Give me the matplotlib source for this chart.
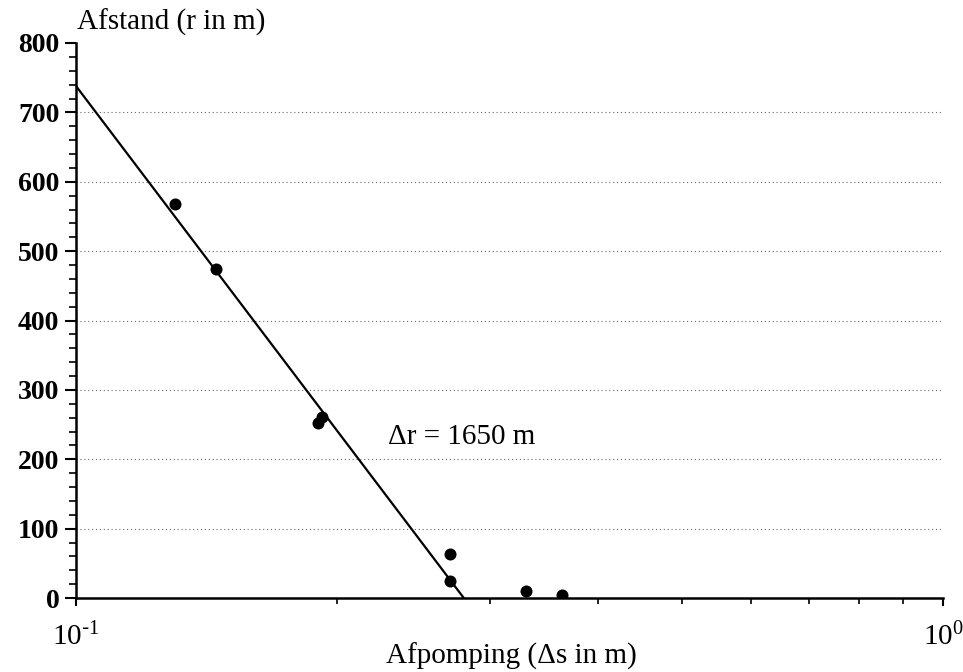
import numpy as np
import matplotlib
matplotlib.use("Agg")
import matplotlib.pyplot as plt
from matplotlib.ticker import MultipleLocator, FixedLocator, NullFormatter

# Data
drawdown = [0.130, 0.145, 0.190, 0.192, 0.270, 0.270, 0.330, 0.364]
distance = [568, 474, 252, 261, 64, 25, 10, 4]

# Fitted straight line: delta r per log cycle and r at s = 0.1
delta_r = 1650
r_at_01 = 738
s0 = 0.1 * 10 ** (r_at_01 / delta_r)
line_s = [0.1, s0]
line_r = [r_at_01 - delta_r * np.log10(s / 0.1) for s in line_s]

yticks = [0, 100, 200, 300, 400, 500, 600, 700, 800]
grid_levels = [100, 200, 300, 400, 500, 600, 700]

plt.rcParams['font.family'] = ['Liberation Serif', 'DejaVu Serif']

fig = plt.figure(figsize=(9.63, 6.72), dpi=100)
ax = fig.add_axes([76/963, 1 - 598/672, (943-76)/963, (598-43)/672])

ax.set_xscale('log')
ax.set_xlim(0.1, 1.0)
ax.set_ylim(0, 800)

for g in grid_levels:
    ax.axhline(g, color='#666666', lw=0.8, ls=(0, (1, 2.5)), zorder=1)

ax.plot(line_s, line_r, color='black', lw=1.6, zorder=3)
ax.scatter(drawdown, distance, s=75, color='black', zorder=4, linewidths=0)

ax.spines['top'].set_visible(False)
ax.spines['right'].set_visible(False)
ax.spines['left'].set_linewidth(1.8)
ax.spines['bottom'].set_linewidth(1.8)

ax.yaxis.set_major_locator(FixedLocator(yticks))
ax.yaxis.set_minor_locator(MultipleLocator(20))
ax.set_xticks([0.1, 1.0])
ax.set_xticklabels([r'$\mathregular{10^{\text{-}1}}$', r'$\mathregular{10^{0}}$'])
ax.xaxis.set_minor_locator(FixedLocator([0.2, 0.3, 0.4, 0.5, 0.6, 0.7, 0.8, 0.9]))
ax.xaxis.set_minor_formatter(NullFormatter())

ax.tick_params(axis='y', which='major', length=8, width=1.5, labelsize=20, pad=4)
ax.tick_params(axis='y', which='minor', length=5, width=1.2)
ax.tick_params(axis='x', which='major', length=6, width=1.5, labelsize=21, pad=12)
ax.tick_params(axis='x', which='minor', length=4, width=1.2)
for lab in ax.get_yticklabels():
    lab.set_fontweight('bold')

fig.text(77/963, 1 - 22/672, 'Afstand (r in m)', fontsize=21, ha='left', va='center')
fig.text(511/963, 1 - 656/672, 'Afpomping (Δs in m)', fontsize=21, ha='center', va='center')
ax.text(0.229, 232, 'Δr = 1650 m', fontsize=21, ha='left', va='center')

fig.savefig('out.png', dpi=100)
